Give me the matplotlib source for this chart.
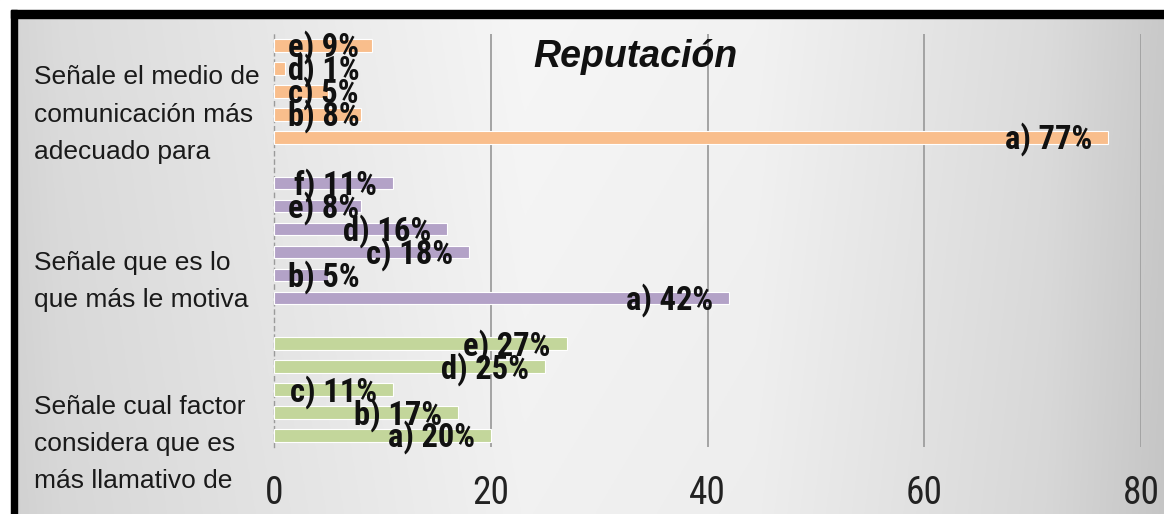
import numpy as np
import matplotlib
matplotlib.use("Agg")
import matplotlib.pyplot as plt
from matplotlib.patches import Rectangle

# ---------------- data ----------------
title = "Reputación"
categories = [
    "Señale cual factor\nconsidera que es\nmás llamativo de",
    "Señale que es lo\nque más le motiva",
    "Señale el medio de\ncomunicación más\nadecuado para",
]
factor_options = ["a)", "b)", "c)", "d)", "e)"]
factor_values = [20, 17, 11, 25, 27]
motiva_options = ["a)", "b)", "c)", "d)", "e)", "f)"]
motiva_values = [42, 5, 18, 16, 8, 11]
medio_options = ["a)", "b)", "c)", "d)", "e)"]
medio_values = [77, 8, 5, 1, 9]
xticks = [0, 20, 40, 60, 80]

groups = [
    (factor_options, factor_values, "#C3D69B"),
    (motiva_options, motiva_values, "#B3A2C7"),
    (medio_options, medio_values, "#F9BE8C"),
]

# ---------------- fonts ----------------
narrow = ["Roboto Condensed", "PT Sans Narrow", "Liberation Sans", "DejaVu Sans"]
base = ["Liberation Sans", "DejaVu Sans"]

W, H, DPI = 1164, 514, 100
fig = plt.figure(figsize=(W / DPI, H / DPI), dpi=DPI)

# background gradient
bg = fig.add_axes([0, 0, 1, 1], zorder=-10)
bg.set_axis_off()
xs = np.linspace(0, 1, 400)
prof = np.interp(xs, [0, 0.05, 0.45, 0.65, 0.9, 1.0], [0.83, 0.86, 0.965, 0.95, 0.86, 0.79])
ys = np.linspace(0, 1, 200)[:, None]
img = prof[None, :] * (1 - 0.02 * ys)
bg.imshow(np.dstack([img, img, img]), aspect="auto", extent=[0, 1, 0, 1], origin="upper")
bg.set_xlim(0, 1)
bg.set_ylim(0, 1)
# white margin and black frame (top and left)
fig.patches.append(Rectangle((0, 1 - 10 / H), 1, 10 / H, transform=fig.transFigure, color="white", zorder=-5))
fig.patches.append(Rectangle((0, 0), 11 / W, 1, transform=fig.transFigure, color="white", zorder=-5))
fig.patches.append(Rectangle((11 / W, 1 - 18 / H), 1, 8 / H, transform=fig.transFigure, color="black", zorder=-4))
fig.patches.append(Rectangle((11 / W, 0), 6 / W, 1 - 10 / H, transform=fig.transFigure, color="black", zorder=-4))

ax = fig.add_axes([274 / W, (H - 447) / H, (1141 - 274) / W, (447 - 34) / H])
ax.set_facecolor("none")

pos = 0
for opts, vals, col in groups:
    ys_ = np.arange(pos, pos + len(vals))
    ax.barh(ys_, vals, height=0.55, color=col, edgecolor="#ffffff", linewidth=0.8, zorder=3)
    for y, o, v in zip(ys_, opts, vals):
        lab = f"{o} {v}%"
        if v >= 10:
            ax.annotate(lab, (v, y), xytext=(-16 * 72 / DPI, -2 * 72 / DPI), textcoords="offset points",
                        ha="right", va="center", fontsize=23.5, fontweight="bold", family=narrow,
                        color="#111111", zorder=5)
        else:
            ax.annotate(lab, (0, y), xytext=(14 * 72 / DPI, -2 * 72 / DPI), textcoords="offset points",
                        ha="left", va="center", fontsize=23.5, fontweight="bold", family=narrow,
                        color="#111111", zorder=5)
    pos += len(vals) + 1

ax.set_ylim(-0.5, pos - 1 - 0.5)
ax.set_xlim(0, 80)
ax.set_xticks(xticks)
ax.set_xticklabels([str(t) for t in xticks], family=narrow, fontsize=27, color="#222222")
ax.tick_params(axis="x", length=0, pad=20)
ax.set_yticks([])
for s in ["top", "right", "bottom"]:
    ax.spines[s].set_visible(False)
ax.spines["left"].set_color("#9a9a9a")
ax.spines["left"].set_linestyle((0, (3, 3)))
ax.spines["left"].set_linewidth(1.0)
for t in xticks[1:]:
    ax.axvline(t, color="#a3a3a3", linewidth=1.4, zorder=1)

# category labels (line by line, baselines in pixels)
cat_baselines = [[414, 451, 488], [270, 307.5], [84, 121.5, 159]]
for cat, bl in zip(categories, cat_baselines):
    for line, yb in zip(cat.split("\n"), bl):
        fig.text(34 / W, 1 - yb / H, line, ha="left", va="baseline", fontsize=19, family=base, color="#1a1a1a")

fig.text(635 / W, 1 - 67 / H, title, ha="center", va="baseline", fontsize=27,
         fontweight="bold", fontstyle="italic", family=base, color="#111111")

fig.savefig("out.png", dpi=DPI)
